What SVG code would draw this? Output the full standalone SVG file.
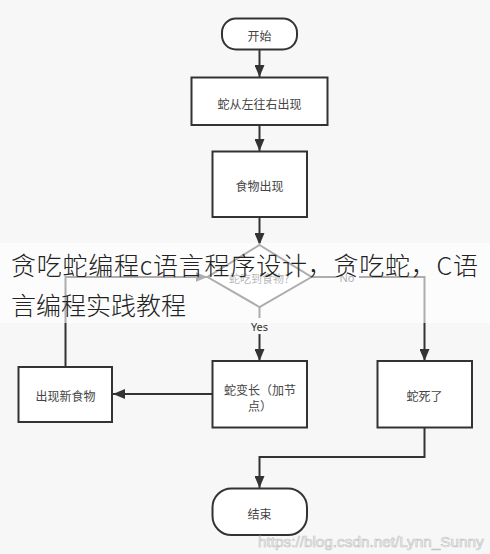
<svg xmlns="http://www.w3.org/2000/svg" width="490" height="554" viewBox="0 0 490 554">
  <defs>
    <marker id="arr" markerUnits="userSpaceOnUse" markerWidth="12" markerHeight="10" refX="12" refY="5" orient="auto">
      <path d="M0,0 L12,5 L0,10 Z" fill="#333"/>
    </marker>
  </defs>
  <style>
    .box{fill:#fff;stroke:#333;stroke-width:2}
    .edge{fill:none;stroke:#333;stroke-width:2}
    .lbl{font-family:"Noto Sans CJK SC","Noto Sans",sans-serif;font-size:12px;fill:#444;text-anchor:middle;dominant-baseline:central}
    .elbl{font-family:"Noto Sans","Noto Sans CJK SC",sans-serif;font-size:11px;fill:#333;text-anchor:middle;dominant-baseline:central}
    .band{font-family:"Noto Sans CJK SC",sans-serif;font-size:25px;font-weight:300;fill:#222}
  </style>
  <rect x="0" y="0" width="490" height="554" fill="#f7f7f7"/>

  <g id="connectors">
    <path class="edge" d="M259.5,49 L259.5,77" marker-end="url(#arr)"/>
    <path class="edge" d="M259.5,125 L259.5,151" marker-end="url(#arr)"/>
    <path class="edge" d="M259.5,217 L259.5,245" marker-end="url(#arr)"/>
    <path class="edge" d="M259.5,307 L259.5,361" marker-end="url(#arr)"/>
    <path class="edge" d="M311.5,277 L424.5,277 L424.5,361" marker-end="url(#arr)"/>
    <path class="edge" d="M212,394 L113,394" marker-end="url(#arr)"/>
    <path class="edge" d="M65.5,367 L65.5,277 L207.5,277" marker-end="url(#arr)"/>
    <path class="edge" d="M424.5,427 L424.5,457 L259.5,457 L259.5,488" marker-end="url(#arr)"/>
    <rect x="247" y="318" width="25" height="16" fill="#f7f7f7"/>
    <text class="elbl" x="259.5" y="326">Yes</text>
    <rect x="336" y="270" width="23" height="15" fill="#f7f7f7"/>
    <text class="elbl" x="347" y="277.5">No</text>
  </g>

  <g id="start">
    <rect class="box" x="222" y="18.5" width="75" height="31" rx="14"/>
    <text class="lbl" x="259.5" y="35">开始</text>
  </g>
  <g id="snake-move">
    <rect class="box" x="191.5" y="77.5" width="136" height="47.5"/>
    <text class="lbl" x="259.5" y="103">蛇从左往右出现</text>
  </g>
  <g id="food-appear">
    <rect class="box" x="212.5" y="151.5" width="94.5" height="65.5"/>
    <text class="lbl" x="259.5" y="185">食物出现</text>
  </g>
  <g id="decision">
    <path d="M259.5,245 L311.5,277 L259.5,307 L207.5,277 Z" fill="#fff" stroke="#333" stroke-width="2"/>
    <text class="lbl" x="259" y="277.5" style="font-size:11px">蛇吃到食物?</text>
  </g>
  <g id="new-food">
    <rect class="box" x="18.5" y="367" width="93.5" height="55"/>
    <text class="lbl" x="65.5" y="395">出现新食物</text>
  </g>
  <g id="grow">
    <rect class="box" x="212.5" y="361" width="94.5" height="66.5"/>
    <text class="lbl" x="260" y="389">蛇变长（加节</text>
    <text class="lbl" x="260" y="405">点）</text>
  </g>
  <g id="die">
    <rect class="box" x="377.5" y="361" width="94.5" height="66.5"/>
    <text class="lbl" x="424.5" y="395">蛇死了</text>
  </g>
  <g id="end">
    <rect class="box" x="212.5" y="488.5" width="94.5" height="46.5" rx="19"/>
    <text class="lbl" x="259.5" y="513">结束</text>
  </g>

  <rect x="0" y="243" width="490" height="80" fill="#fff" fill-opacity="0.6"/>
  <text class="band" x="11" y="275" textLength="467" lengthAdjust="spacing">贪吃蛇编程c语言程序设计，贪吃蛇，C语</text>
  <text class="band" x="11" y="315">言编程实践教程</text>

  <text x="258" y="547" font-family="Liberation Sans, Arial, sans-serif" font-size="15.3" fill="#ffffff" stroke="#c4c4c4" stroke-width="0.7">https://blog.csdn.net/Lynn_Sunny</text>
</svg>
